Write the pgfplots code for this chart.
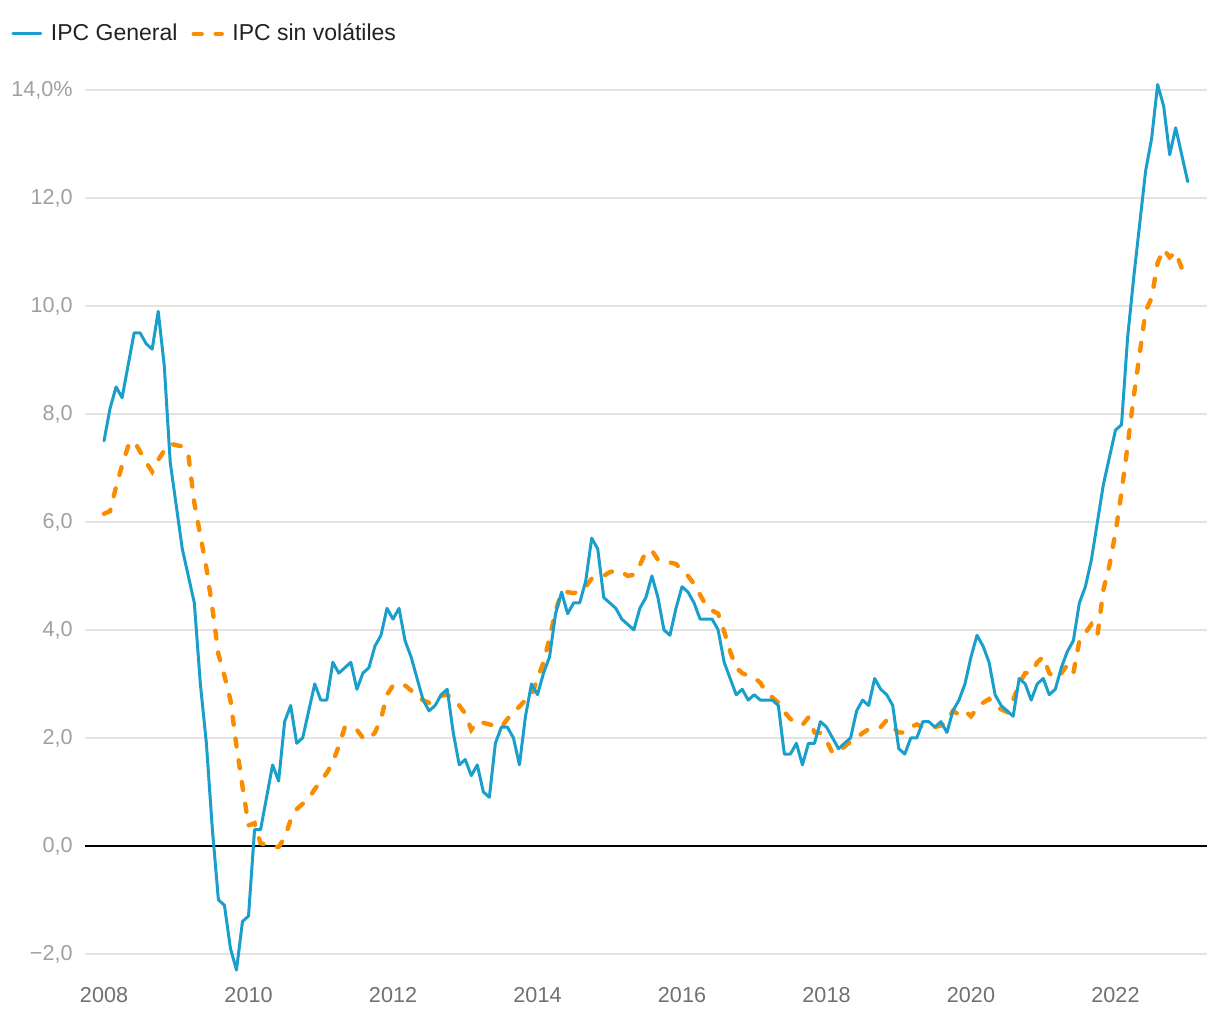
\documentclass[border=0pt]{standalone}
\usepackage{pgfplots}
\pgfplotsset{compat=1.18}
\usepackage{pgfplotstable}
\usepackage{fontspec}
\setmainfont{Liberation Sans}
\definecolor{ipcblue}{HTML}{1A9FCC}
\definecolor{ipcorange}{HTML}{FA8C00}
\definecolor{gridgray}{HTML}{E3E3E3}
\definecolor{ylab}{HTML}{A0A0A0}
\definecolor{xlab}{HTML}{707070}
\definecolor{legtext}{HTML}{222222}

\pgfplotstableread{
i v
0 7.5
1 8.1
2 8.5
3 8.3
4 8.9
5 9.5
6 9.5
7 9.3
8 9.2
9 9.9
10 8.9
11 7.1
12 6.3
13 5.5
14 5.0
15 4.5
16 3.0
17 1.9
18 0.3
19 -1.0
20 -1.1
21 -1.9
22 -2.3
23 -1.4
24 -1.3
25 0.3
26 0.3
27 0.9
28 1.5
29 1.2
30 2.3
31 2.6
32 1.9
33 2.0
34 2.5
35 3.0
36 2.7
37 2.7
38 3.4
39 3.2
40 3.3
41 3.4
42 2.9
43 3.2
44 3.3
45 3.7
46 3.9
47 4.4
48 4.2
49 4.4
50 3.8
51 3.5
52 3.1
53 2.7
54 2.5
55 2.6
56 2.8
57 2.9
58 2.1
59 1.5
60 1.6
61 1.3
62 1.5
63 1.0
64 0.9
65 1.9
66 2.2
67 2.2
68 2.0
69 1.5
70 2.4
71 3.0
72 2.8
73 3.2
74 3.5
75 4.3
76 4.7
77 4.3
78 4.5
79 4.5
80 4.9
81 5.7
82 5.5
83 4.6
84 4.5
85 4.4
86 4.2
87 4.1
88 4.0
89 4.4
90 4.6
91 5.0
92 4.6
93 4.0
94 3.9
95 4.4
96 4.8
97 4.7
98 4.5
99 4.2
100 4.2
101 4.2
102 4.0
103 3.4
104 3.1
105 2.8
106 2.9
107 2.7
108 2.8
109 2.7
110 2.7
111 2.7
112 2.6
113 1.7
114 1.7
115 1.9
116 1.5
117 1.9
118 1.9
119 2.3
120 2.2
121 2.0
122 1.8
123 1.9
124 2.0
125 2.5
126 2.7
127 2.6
128 3.1
129 2.9
130 2.8
131 2.6
132 1.8
133 1.7
134 2.0
135 2.0
136 2.3
137 2.3
138 2.2
139 2.3
140 2.1
141 2.5
142 2.7
143 3.0
144 3.5
145 3.9
146 3.7
147 3.4
148 2.8
149 2.6
150 2.5
151 2.4
152 3.1
153 3.0
154 2.7
155 3.0
156 3.1
157 2.8
158 2.9
159 3.3
160 3.6
161 3.8
162 4.5
163 4.8
164 5.3
165 6.0
166 6.7
167 7.2
168 7.7
169 7.8
170 9.4
171 10.5
172 11.5
173 12.5
174 13.1
175 14.1
176 13.7
177 12.8
178 13.3
179 12.8
180 12.3
}\general

\pgfplotstableread{
i v
0 6.15
1 6.2
2 6.65
3 7.05
4 7.4
5 7.5
6 7.3
7 7.1
8 6.93
9 7.15
10 7.32
11 7.45
12 7.42
13 7.4
14 7.25
15 6.35
16 5.75
17 5.15
18 4.4
19 3.55
20 3.15
21 2.7
22 1.85
23 1.1
24 0.38
25 0.42
26 0.05
27 0.02
28 -0.02
29 -0.02
30 0.15
31 0.48
32 0.68
33 0.78
34 0.88
35 1.05
36 1.2
37 1.35
38 1.55
39 1.85
40 2.2
41 2.18
42 2.15
43 2.0
44 1.97
45 2.1
46 2.35
47 2.8
48 2.97
49 3.0
50 2.97
51 2.88
52 2.75
53 2.7
54 2.65
55 2.72
56 2.78
57 2.8
58 2.7
59 2.6
60 2.45
61 2.15
62 2.3
63 2.28
64 2.25
65 2.22
66 2.2
67 2.35
68 2.48
69 2.58
70 2.7
71 2.78
72 3.1
73 3.4
74 3.85
75 4.35
76 4.7
77 4.7
78 4.68
79 4.72
80 4.8
81 4.95
82 4.98
83 5.0
84 5.07
85 5.1
86 5.07
87 5.0
88 5.02
89 5.2
90 5.45
91 5.47
92 5.3
93 5.26
94 5.25
95 5.22
96 5.1
97 5.0
98 4.85
99 4.65
100 4.45
101 4.36
102 4.3
103 3.97
104 3.6
105 3.3
106 3.2
107 3.15
108 3.12
109 3.02
110 2.85
111 2.75
112 2.65
113 2.48
114 2.35
115 2.28
116 2.24
117 2.38
118 2.1
119 2.09
120 1.95
121 1.72
122 1.75
123 1.84
124 1.93
125 2.0
126 2.09
127 2.16
128 2.18
129 2.2
130 2.33
131 2.2
132 2.1
133 2.1
134 2.2
135 2.25
136 2.2
137 2.2
138 2.2
139 2.23
140 2.3
141 2.5
142 2.43
143 2.5
144 2.4
145 2.55
146 2.65
147 2.72
148 2.6
149 2.53
150 2.48
151 2.7
152 3.0
153 3.2
154 3.2
155 3.4
156 3.5
157 3.2
158 3.1
159 3.2
160 3.35
161 3.2
162 3.8
163 3.95
164 4.1
165 3.9
166 4.75
167 5.2
168 5.8
169 6.55
170 7.4
171 8.3
172 9.1
173 9.9
174 10.15
175 10.8
176 11.05
177 10.9
178 11.0
179 10.7
180 10.55
}\core

\begin{document}
\begin{tikzpicture}[x=1pt,y=1pt]
\path[use as bounding box] (0,0) rectangle (610,510);
\begin{axis}[
  at={(42.5pt,22pt)}, anchor=south west,
  scale only axis, width=561pt, height=451pt,
  xmin=-3.16, xmax=183.2, ymin=-2.41, ymax=14.296,
  axis line style={draw=none},
  major tick length=0pt,
  xtick={0,24,48,72,96,120,144,168},
  xticklabels={2008,2010,2012,2014,2016,2018,2020,2022},
  ytick={-2,0,2,4,6,8,10,12,14},
  yticklabels={{−2,0},{0,0},{2,0},{4,0},{6,0},{8,0},{10,0},{12,0},{14,0\%}},
  ymajorgrids, grid style={gridgray, line width=0.7pt},
  extra y ticks={0}, extra y tick labels={},
  extra y tick style={grid style={black, line width=0.8pt}},
  yticklabel style={text=ylab, font=\fontsize{10.8}{13}\selectfont, anchor=east, inner sep=0pt, xshift=-6pt},
  xticklabel style={text=xlab, font=\fontsize{10.8}{13}\selectfont, anchor=north, inner sep=0pt, yshift=-5.5pt},
  legend columns=2,
  legend style={draw=none, fill=none, at={(axis description cs:-0.0659,1.0444)}, anchor=west,
    font=\fontsize{11.5}{13}\selectfont, text=legtext, inner sep=0pt,
    nodes={inner xsep=2.5pt, inner ysep=0pt},
    /tikz/every odd column/.append style={column sep=1.75pt},
    /tikz/every even column/.append style={column sep=4.5pt}},
  legend image code/.code={\draw[#1] (0pt,0pt) -- (14pt,0pt);},
  clip=false,
]
\addplot[forget plot, ipcorange, line width=2.2pt, line cap=round, dash pattern=on 4pt off 7pt] table[x=i, y=v] {\core};
\addplot[ipcblue, line width=1.5pt, line join=round, line cap=round] table[x=i, y=v] {\general};
\addlegendentry{IPC General}
\addlegendimage{ipcorange, line width=2.2pt, line cap=round, dash pattern=on 4pt off 7pt}
\addlegendentry{IPC sin volátiles}
\end{axis}
\end{tikzpicture}
\end{document}
